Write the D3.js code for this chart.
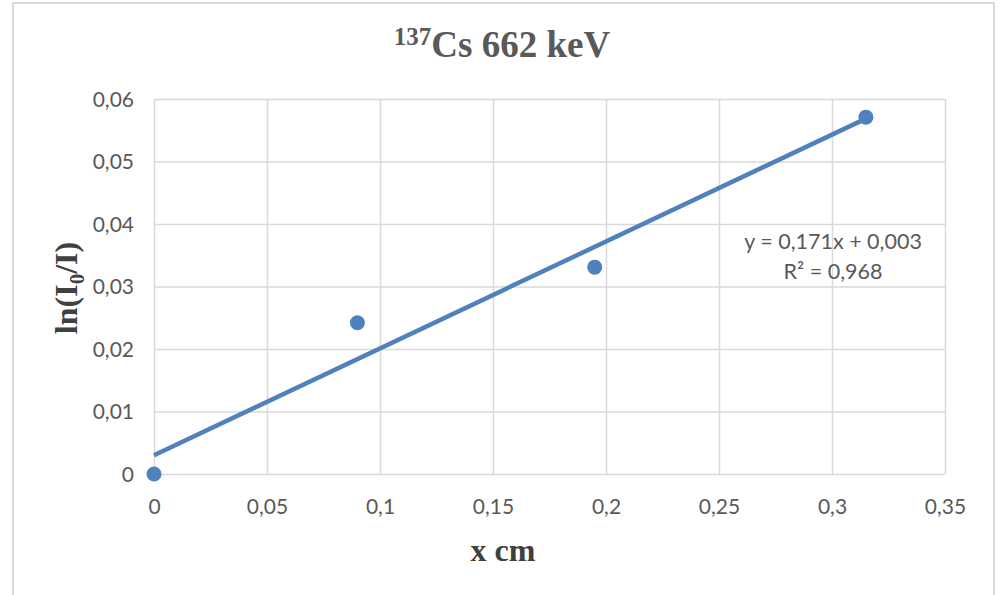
<!DOCTYPE html>
<html>
<head>
<meta charset="utf-8">
<script src="https://cdn.jsdelivr.net/npm/d3@7"></script>
<style>
  html, body { margin: 0; padding: 0; background: #fff; }
  svg { display: block; }
</style>
</head>
<body>
<svg id="chart" width="1006" height="595"></svg>
<script>
// Attenuation measurements for the 662 keV line of Cs-137
const thickness = [0, 0.09, 0.195, 0.315];          // x, cm
const lnRatio   = [0, 0.0242, 0.0331, 0.0571];      // ln(I0/I)
const xTicks = [0, 0.05, 0.1, 0.15, 0.2, 0.25, 0.3, 0.35];
const yTicks = [0, 0.01, 0.02, 0.03, 0.04, 0.05, 0.06];
// Linear fit shown on the chart
const fitSlope = 0.171;
const fitIntercept = 0.003;
const fitR2 = 0.968;

const svg = d3.select("#chart");
const W = 1006, H = 595;
const plot = { left: 154, right: 945, top: 99, bottom: 474 };

const blue = "#4f81bd";
const grid = "#d9d9d9";
const textGray = "#595959";
const comma = v => String(v).replace(".", ",");

// chart frame
svg.append("path")
  .attr("d", `M13,${H + 2} V3 H994 V${H + 2}`)
  .attr("fill", "none")
  .attr("stroke", grid)
  .attr("stroke-width", 2);

const x = d3.scaleLinear().domain([0, 0.35]).range([plot.left, plot.right]);
const y = d3.scaleLinear().domain([0, 0.06]).range([plot.bottom, plot.top]);

// gridlines
const xAxis = d3.axisBottom(x).tickValues(xTicks).tickSize(-(plot.bottom - plot.top))
  .tickFormat(comma).tickPadding(25);
const yAxis = d3.axisLeft(y).tickValues(yTicks).tickSize(-(plot.right - plot.left))
  .tickFormat(comma).tickPadding(20);

const gx = svg.append("g").attr("transform", `translate(0,${plot.bottom})`).call(xAxis);
const gy = svg.append("g").attr("transform", `translate(${plot.left},0)`).call(yAxis);

[gx, gy].forEach(g => {
  g.select(".domain").remove();
  g.selectAll(".tick line").attr("stroke", grid).attr("stroke-width", 1.5);
  g.selectAll(".tick text")
    .attr("fill", textGray)
    .style("font-family", "Lato, 'Open Sans', sans-serif")
    .style("font-size", "21px");
});
gy.selectAll(".tick text").attr("dy", "0.35em");

// trendline over the measured range
const xFit = d3.extent(thickness);
svg.append("line")
  .attr("x1", x(xFit[0])).attr("y1", y(fitSlope * xFit[0] + fitIntercept))
  .attr("x2", x(xFit[1])).attr("y2", y(fitSlope * xFit[1] + fitIntercept))
  .attr("stroke", blue)
  .attr("stroke-width", 4.5);

// measured points
svg.append("g").selectAll("circle")
  .data(thickness.map((t, i) => [t, lnRatio[i]]))
  .join("circle")
  .attr("cx", d => x(d[0]))
  .attr("cy", d => y(d[1]))
  .attr("r", 7.5)
  .attr("fill", blue);

// fit equation
const eq = svg.append("text")
  .attr("text-anchor", "middle")
  .attr("fill", textGray)
  .style("font-family", "Lato, 'Open Sans', sans-serif")
  .style("font-size", "21.5px");
eq.append("tspan").attr("x", 833).attr("y", 249)
  .text(`y = ${comma(fitSlope)}x + ${comma(fitIntercept)}`);
eq.append("tspan").attr("x", 833).attr("y", 279)
  .text(`R² = ${comma(fitR2)}`);

// title
const title = svg.append("text")
  .attr("x", 502).attr("y", 57)
  .attr("text-anchor", "middle")
  .attr("fill", textGray)
  .style("font-family", "'Liberation Serif', 'Times New Roman', serif")
  .style("font-weight", "bold")
  .style("font-size", "37px");
title.append("tspan").attr("font-size", "25px").attr("dy", -12).text("137");
title.append("tspan").attr("dy", 12).text("Cs 662 keV");

// axis titles
svg.append("text")
  .attr("x", 503).attr("y", 561)
  .attr("text-anchor", "middle")
  .attr("fill", "#404040")
  .style("font-family", "'Liberation Serif', 'Times New Roman', serif")
  .style("font-weight", "bold")
  .style("font-size", "32px")
  .text("x cm");

const yt = svg.append("text")
  .attr("transform", "translate(77,288) rotate(-90)")
  .attr("text-anchor", "middle")
  .attr("fill", "#404040")
  .style("font-family", "'Liberation Serif', 'Times New Roman', serif")
  .style("font-weight", "bold")
  .style("font-size", "32px");
yt.append("tspan").text("ln(I");
yt.append("tspan").attr("font-size", "21px").attr("dy", 7).text("0");
yt.append("tspan").attr("dy", -7).text("/I)");
</script>
</body>
</html>
